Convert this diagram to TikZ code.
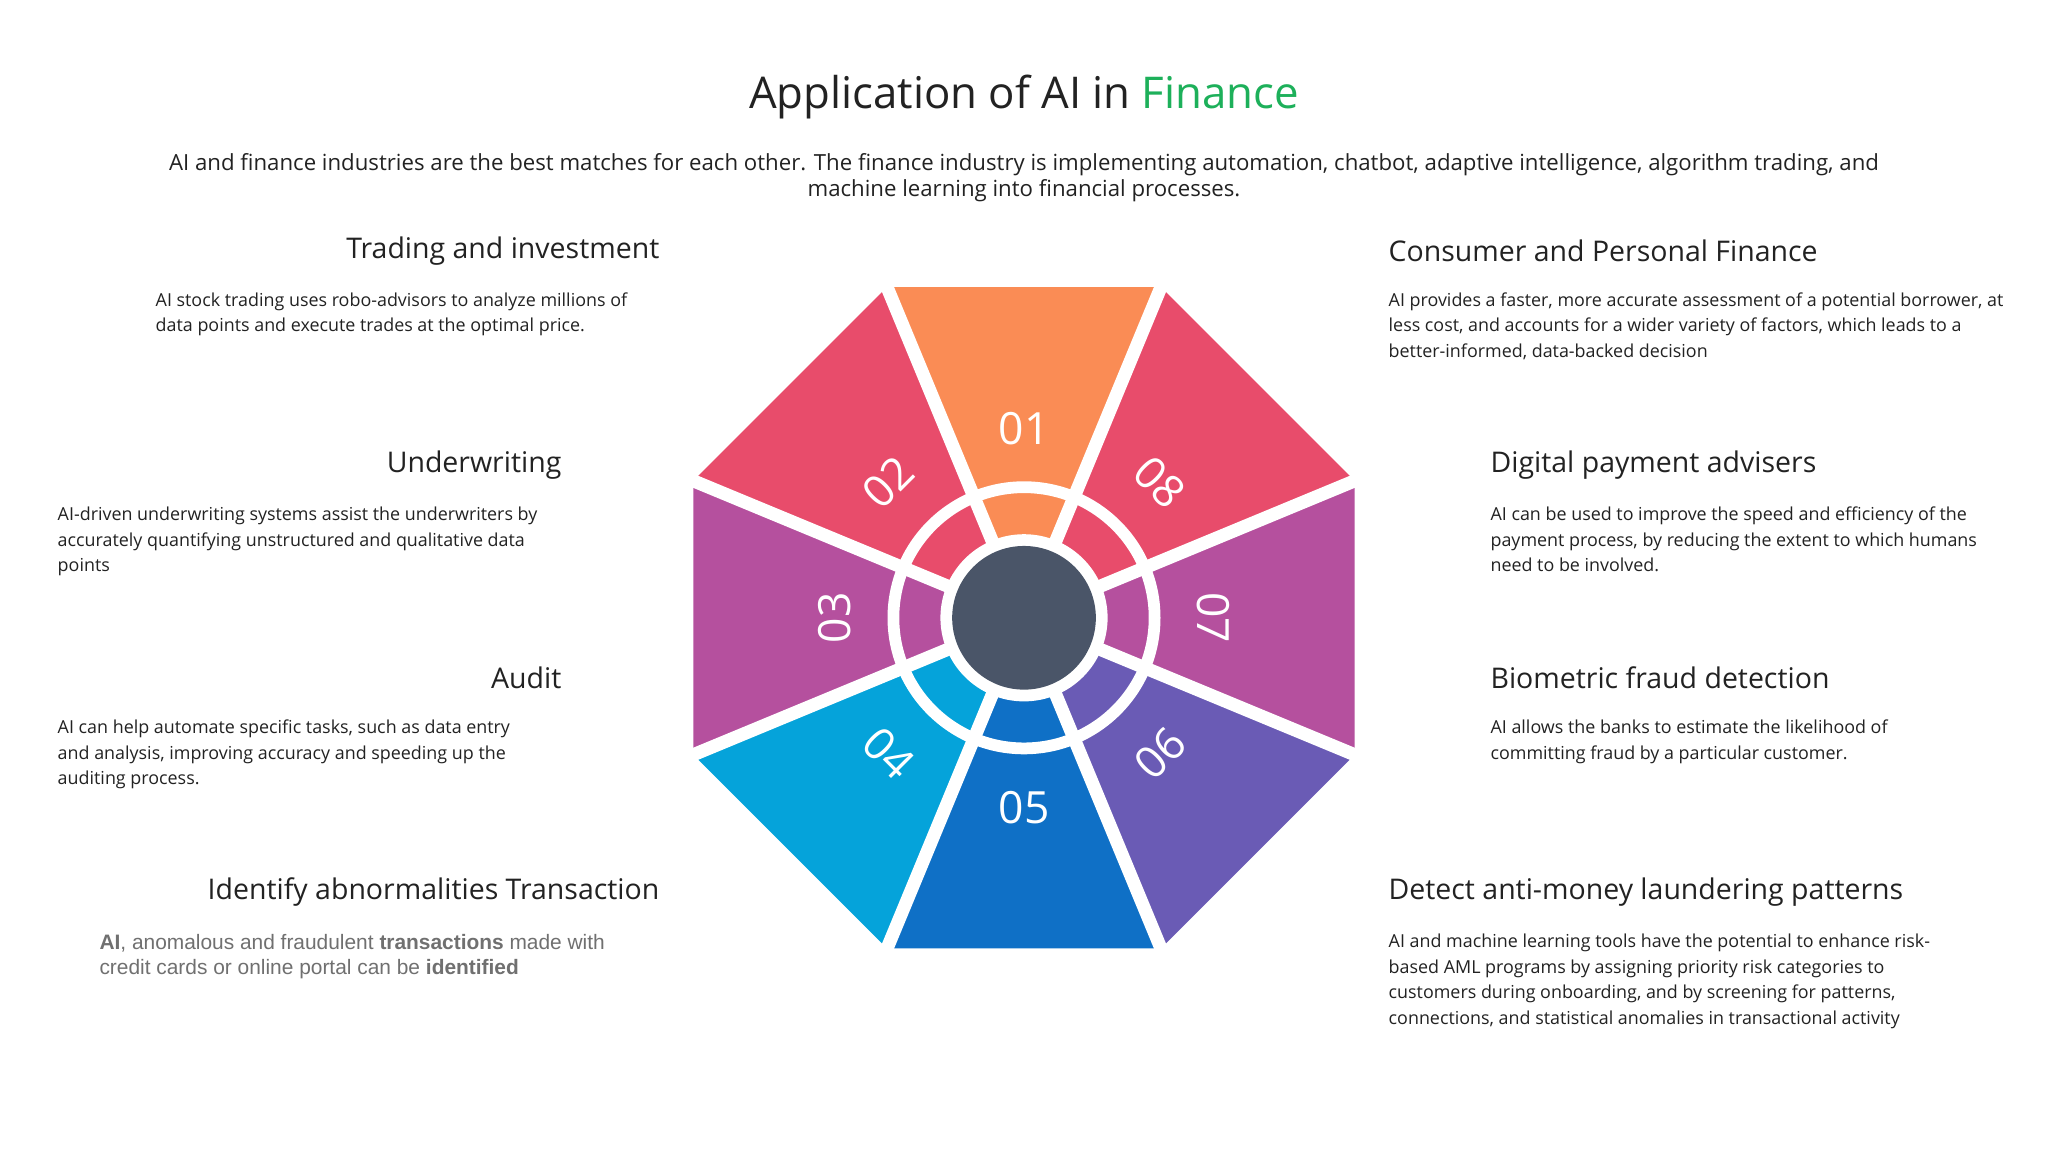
\documentclass[tikz,border=0pt]{standalone}
\usepackage{fontspec}
\setmainfont{Open Sans}
\newfontfamily\arialf{Liberation Sans}
\usetikzlibrary{calc}
\definecolor{corange}{HTML}{FA8C55}
\definecolor{cred}{HTML}{E84C6B}
\definecolor{cmag}{HTML}{B5509E}
\definecolor{cpur}{HTML}{6A5BB5}
\definecolor{cblue}{HTML}{0F70C6}
\definecolor{ccyan}{HTML}{05A3DA}
\definecolor{cdark}{HTML}{4A5568}
\definecolor{cgreen}{HTML}{1DB05A}
\definecolor{ctext}{HTML}{222222}
\definecolor{cgray}{HTML}{707070}
\begin{document}
\begin{tikzpicture}[x=1pt,y=-1pt,
  head/.style={font=\fontsize{21.8}{26}\selectfont,text=ctext,inner sep=0pt},
  desc/.style={font=\fontsize{13.7}{19.5}\selectfont,text=ctext,inner sep=0pt,align=left,anchor=north west},
  num/.style={font=\fontsize{34}{34}\selectfont,text=white,inner sep=0pt}]
\useasboundingbox[fill=white] (0,0) rectangle (1568,882);
\node[inner sep=0pt,font=\fontsize{33.5}{38}\selectfont,text=ctext] (title) at (784,74) {Application of AI in \textcolor{cgreen}{Finance}};
\node[inner sep=0pt,align=center,font=\fontsize{17}{20}\selectfont,text=ctext] (sub) at (784,136) {AI and finance industries are the best matches for each other. The finance industry is implementing automation, chatbot, adaptive intelligence, algorithm trading, and\\machine learning into financial processes.};
% octagon
\coordinate (c) at (784,473);
\foreach \k/\col in {0/corange,1/cred,2/cmag,3/ccyan,4/cblue,5/cpur,6/cmag,7/cred}{
  \pgfmathsetmacro\aa{-67.5-45*\k}
  \pgfmathsetmacro\ab{-112.5-45*\k}
  \fill[\col] (c) -- ($(c)+(\aa:274)$) -- ($(c)+(\ab:274)$) -- cycle;
}
\foreach \k in {0,...,7}{
  \draw[white,line width=10pt] (c) -- ($(c)+(22.5+45*\k:290)$);
}
\draw[white,line width=9pt] (c) circle (100);
\fill[white] (c) circle (64);
\fill[cdark] (c) circle (55);
\node[num] (n1) at ($(c)+(0,-145)$) {01};
\node[num,rotate=-45] (n8) at ($(c)+(-45:147)$) {08};
\node[num,rotate=-90] (n7) at ($(c)+(0:145)$) {07};
\node[num,rotate=45] (n6) at ($(c)+(45:147)$) {06};
\node[num] (n5) at ($(c)+(0,145)$) {05};
\node[num,rotate=-45] (n4) at ($(c)+(135:147)$) {04};
\node[num,rotate=90] (n3) at ($(c)+(180:145)$) {03};
\node[num,rotate=45] (n2) at ($(c)+(225:147)$) {02};
% left
\node[head,anchor=east] (h1) at (505,192) {Trading and investment};
\node[desc] (d1) at (119,224) {AI stock trading uses robo-advisors to analyze millions of\\data points and execute trades at the optimal price.};
\node[head,anchor=east] (h2) at (430,356) {Underwriting};
\node[desc] (d2) at (44,388) {AI-driven underwriting systems assist the underwriters by\\accurately quantifying unstructured and qualitative data\\points};
\node[head,anchor=east] (h3) at (430,519) {Audit};
\node[desc] (d3) at (44,551) {AI can help automate specific tasks, such as data entry\\and analysis, improving accuracy and speeding up the\\auditing process.};
\node[head,anchor=east] (h4) at (505,683) {Identify abnormalities Transaction};
\node[desc,text=cgray,font=\arialf\fontsize{16}{19.5}\selectfont] (d4) at (76,715) {\textbf{AI}, anomalous and fraudulent \textbf{transactions} made with\\credit cards or online portal can be \textbf{identified}};
% right
\node[head,anchor=west] (h5) at (1063,192) {Consumer and Personal Finance};
\node[desc] (d5) at (1063,224) {AI provides a faster, more accurate assessment of a potential borrower, at\\less cost, and accounts for a wider variety of factors, which leads to a\\better-informed, data-backed decision};
\node[head,anchor=west] (h6) at (1141,356) {Digital payment advisers};
\node[desc] (d6) at (1141,388) {AI can be used to improve the speed and efficiency of the\\payment process, by reducing the extent to which humans\\need to be involved.};
\node[head,anchor=west] (h7) at (1141,519) {Biometric fraud detection};
\node[desc] (d7) at (1141,551) {AI allows the banks to estimate the likelihood of\\committing fraud by a particular customer.};
\node[head,anchor=west] (h8) at (1063,683) {Detect anti-money laundering patterns};
\node[desc] (d8) at (1063,715) {AI and machine learning tools have the potential to enhance risk-\\based AML programs by assigning priority risk categories to\\customers during onboarding, and by screening for patterns,\\connections, and statistical anomalies in transactional activity};
\end{tikzpicture}
\end{document}
